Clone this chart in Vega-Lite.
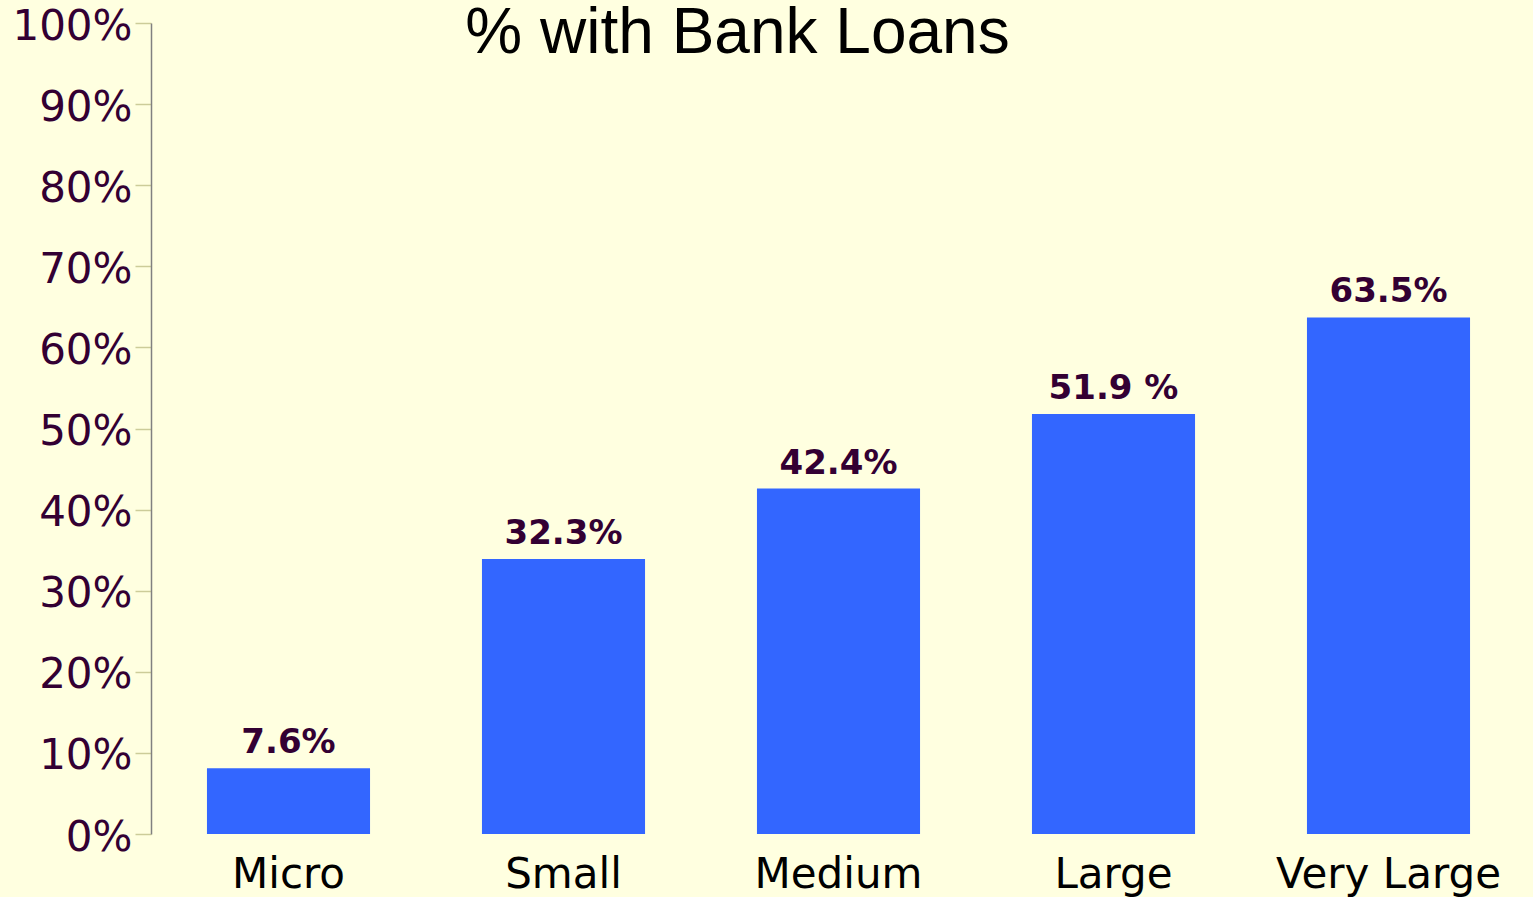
{
  "$schema": "https://vega.github.io/schema/vega-lite/v6.json",
  "autosize": {"type": "none"},
  "padding": {"left": 151, "top": 23, "right": 7, "bottom": 63},
  "width": 1375,
  "height": 811,
  "background": "#FFFFE0",
  "title": {
    "text": "% with Bank Loans",
    "font": "Liberation Sans",
    "fontSize": 64,
    "fontWeight": "normal",
    "color": "#000000",
    "anchor": "middle",
    "frame": "group",
    "baseline": "alphabetic",
    "offset": -112,
    "dx": -101
  },
  "config": {
    "view": {"stroke": null},
    "axis": {"grid": false}
  },
  "data": {
    "values": [
      {"size": "Micro", "value": 8.1, "label": "7.6%"},
      {"size": "Small", "value": 33.9, "label": "32.3%"},
      {"size": "Medium", "value": 42.6, "label": "42.4%"},
      {"size": "Large", "value": 51.8, "label": "51.9 %"},
      {"size": "Very Large", "value": 63.7, "label": "63.5%"}
    ]
  },
  "encoding": {
    "x": {
      "field": "size",
      "type": "nominal",
      "sort": null,
      "scale": {"paddingInner": 0.407, "paddingOuter": 0.2035},
      "axis": {
        "title": null,
        "domain": false,
        "ticks": false,
        "labelAngle": 0,
        "labelFont": "DejaVu Sans",
        "labelFontSize": 42,
        "labelColor": "#000000",
        "labelPadding": 20,
        "labelBaseline": "top",
        "labelLimit": 0,
        "labelOverlap": false
      }
    },
    "y": {
      "field": "value",
      "type": "quantitative",
      "scale": {"domain": [0, 100]},
      "axis": {
        "title": null,
        "values": [0, 10, 20, 30, 40, 50, 60, 70, 80, 90, 100],
        "labelExpr": "datum.value + '%'",
        "labelFont": "DejaVu Sans",
        "labelFontSize": 42,
        "labelColor": "#330033",
        "labelPadding": 3,
        "labelBaseline": "middle",
        "labelOffset": 3,
        "tickSize": 16,
        "tickColor": "#CCCC99",
        "tickWidth": 1.5,
        "domainColor": "#808080",
        "domainWidth": 1.5
      }
    }
  },
  "layer": [
    {"mark": {"type": "bar", "color": "#3366FF"}},
    {
      "mark": {
        "type": "text",
        "font": "DejaVu Sans",
        "fontSize": 34,
        "fontWeight": "bold",
        "color": "#330033",
        "baseline": "alphabetic",
        "dy": -15
      },
      "encoding": {"text": {"field": "label"}}
    }
  ]
}
